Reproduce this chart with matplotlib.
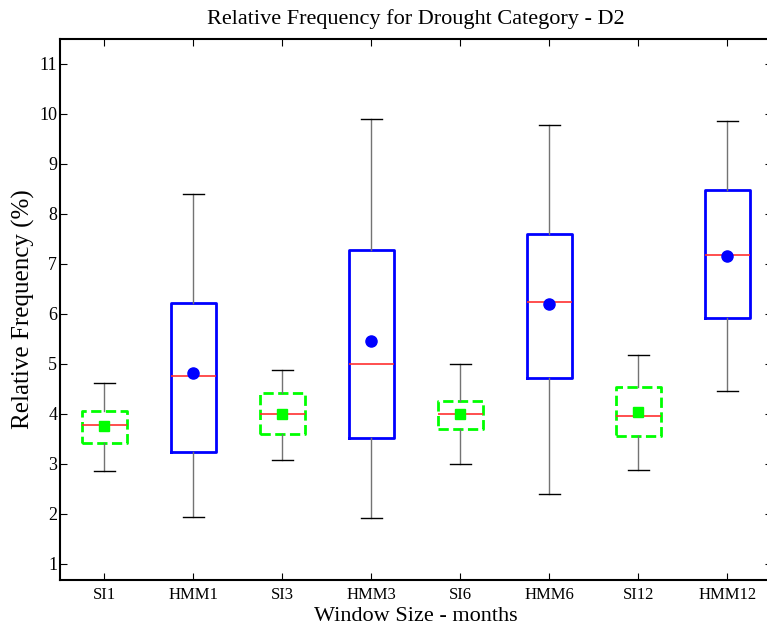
import matplotlib.pyplot as plt
import numpy as np

plt.rcParams['font.family'] = ['Liberation Serif', 'DejaVu Serif']

labels = ['SI1', 'HMM1', 'SI3', 'HMM3', 'SI6', 'HMM6', 'SI12', 'HMM12']
whislo = [2.85, 1.93, 3.08, 1.91, 3.00, 2.40, 2.87, 4.45]
q1 = [3.41, 3.23, 3.60, 3.52, 3.69, 4.71, 3.55, 5.92]
med = [3.77, 4.75, 4.00, 5.00, 3.99, 6.23, 3.95, 7.17]
q3 = [4.05, 6.21, 4.42, 7.27, 4.25, 7.59, 4.53, 8.47]
whishi = [4.61, 8.39, 4.87, 9.90, 5.00, 9.77, 5.17, 9.85]
means = [3.75, 4.81, 3.99, 5.45, 4.00, 6.19, 4.03, 7.16]

fig = plt.figure(figsize=(7.67, 6.28), dpi=100)
ax = fig.add_axes([0.0782, 0.0764, 0.9283, 0.8615])

pos = np.arange(1, 9)
for i in range(8):
    st = [dict(whislo=whislo[i], q1=q1[i], med=med[i], q3=q3[i],
               whishi=whishi[i], fliers=[])]
    si = labels[i].startswith('SI')
    # SI: green dashed box, HMM: blue solid box
    bc = '#00ff00' if si else '#0000ff'
    ls = '--' if si else '-'
    ax.bxp(st, positions=[pos[i]], widths=0.5, capwidths=0.24,
           boxprops=dict(color=bc, linestyle=ls, linewidth=2),
           medianprops=dict(color='#ff3030', linewidth=1.2),
           whiskerprops=dict(color='0.45', linewidth=1),
           capprops=dict(color='k', linewidth=1),
           manage_ticks=False)
    if si:
        ax.plot(pos[i], means[i], 's', color='#00ff00', ms=7, zorder=5)
    else:
        ax.plot(pos[i], means[i], 'o', color='#0000ff', ms=8, zorder=5)

ax.set_xlim(0.5, 8.5)
ax.set_ylim(0.67, 11.5)
ax.set_xticks(pos)
ax.set_xticklabels(labels)
ax.set_yticks(range(1, 12))
ax.tick_params(direction='in', length=5, top=True, right=True)
ax.tick_params(axis='x', labelsize=12, pad=5)
ax.tick_params(axis='y', labelsize=13, pad=2)
for s in ax.spines.values():
    s.set_linewidth(1.5)

ax.set_title('Relative Frequency for Drought Category - D2', fontsize=16, pad=11)
ax.set_xlabel('Window Size - months', fontsize=16, labelpad=3)
ax.set_ylabel('Relative Frequency (%)', fontsize=18, labelpad=3)

plt.savefig('out.png', dpi=100)
